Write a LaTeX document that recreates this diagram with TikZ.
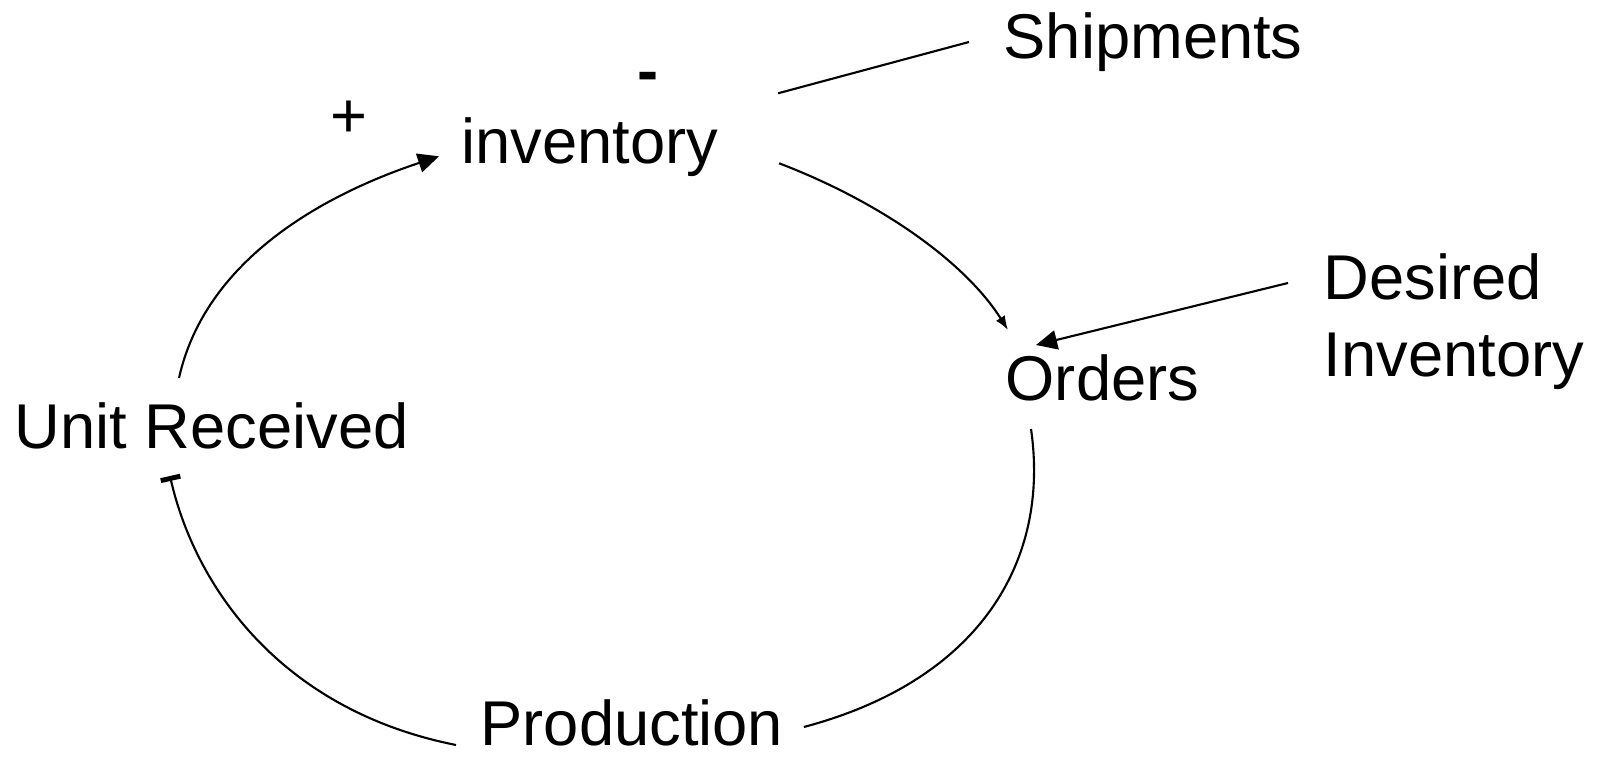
\documentclass[tikz,border=0pt]{standalone}
\usepackage{fontspec}
\setmainfont{Liberation Sans}
\usetikzlibrary{arrows.meta}

\begin{document}
\begin{tikzpicture}
\tikzset{var/.style = {inner sep=0pt, anchor=base west, font=\fontsize{18}{21.8}\selectfont}}
\tikzset{link/.style = {line width=0.6pt}}
\tikzset{edge/.style = {link, -{Triangle[length=6pt,width=5.5pt]}}}
\useasboundingbox (0,0) rectangle (16,7.57);
% variables
\node[var] (inv) at (4.61,5.937) {inventory};
\node[var] (ship) at (10.03,6.98) {Shipments};
\node[var] (ord) at (10.05,3.56) {Orders};
\node[var, align=left] (des) at (13.23,3.805) {Desired\\Inventory};
\node[var] (prod) at (4.80,0.11) {Production};
\node[var] (unit) at (0.14,3.08) {Unit Received};

% signs
\node[var, anchor=center] (plus) at (3.49,6.38) {+};
\node[var, anchor=center] (minus) at (6.48,6.75) {\textbf{-}};

%edges
\draw[link] ([shift={(0.59,0.70)}]inv.base east) -- ([shift={(-0.34,0.17)}]ship.base west);
\draw[edge] ([shift={(1.65,0.71)}]unit.base west)
  .. controls +(0.26,1.16) and +(-1.2,-0.4) .. ([shift={(-0.22,0.07)}]inv.base west);
\draw[link, -{Latex[length=4pt,width=3pt]}] ([shift={(0.60,0)}]inv.base east)
  .. controls +(1.02,-0.39) and +(-0.43,0.68) .. ([shift={(0.03,0.71)}]ord.base west);
\draw[edge] ([shift={(-0.35,0.935)}]des.base west) -- ([shift={(0.31,0.56)}]ord.base west);
\draw[link] ([shift={(0.26,-0.28)}]ord.base west)
  .. controls +(0.19,-1.31) and +(1.77,0.47) .. ([shift={(0.20,0.19)}]prod.base east);
\draw[link, -{Bar[width=5.7pt,line width=1.4pt]}] ([shift={(-0.24,0.01)}]prod.base west)
  .. controls +(-1.76,0.35) and +(0.25,-1.1) .. ([shift={(1.56,-0.27)}]unit.base west);

\end{tikzpicture}
\end{document}
